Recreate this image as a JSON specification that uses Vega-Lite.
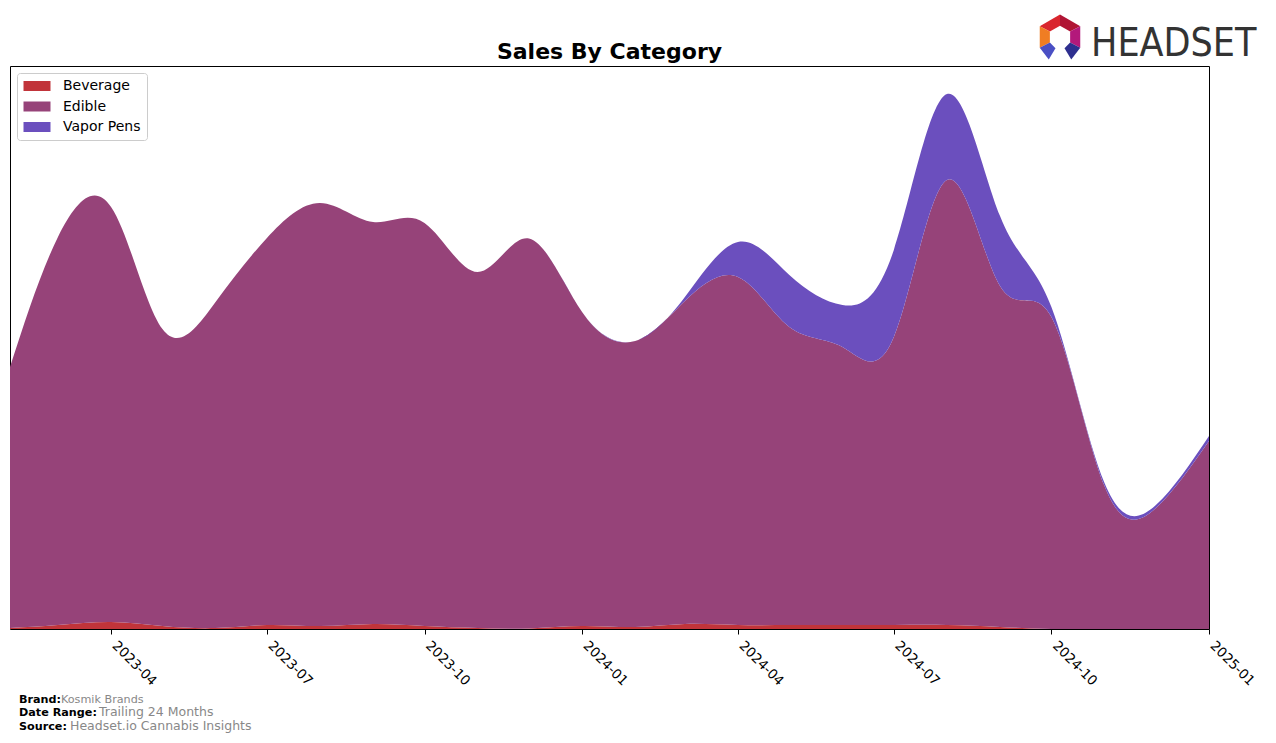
{
  "$schema": "https://vega.github.io/schema/vega-lite/v6.json",
  "width": 1199,
  "height": 563,
  "autosize": {"type": "none"},
  "padding": {"left": 10, "top": 66, "right": 67, "bottom": 114},
  "background": "white",
  "config": {
    "view": {"stroke": "black", "strokeWidth": 1},
    "font": "DejaVu Sans"
  },
  "title": {
    "text": "Sales By Category",
    "font": "DejaVu Sans",
    "fontSize": 22,
    "fontWeight": "bold",
    "color": "black",
    "anchor": "middle",
    "baseline": "alphabetic",
    "offset": 6,
    "dy": 72
  },
  "resolve": {"scale": {"color": "independent"}},
  "layer": [
    {
      "data": {
        "values": [
          {"month": "2023-02-01", "category": "Beverage", "sales": 1},
          {"month": "2023-03-01", "category": "Beverage", "sales": 4},
          {"month": "2023-04-01", "category": "Beverage", "sales": 7},
          {"month": "2023-05-01", "category": "Beverage", "sales": 3},
          {"month": "2023-06-01", "category": "Beverage", "sales": 1},
          {"month": "2023-07-01", "category": "Beverage", "sales": 4},
          {"month": "2023-08-01", "category": "Beverage", "sales": 3},
          {"month": "2023-09-01", "category": "Beverage", "sales": 5},
          {"month": "2023-10-01", "category": "Beverage", "sales": 3},
          {"month": "2023-11-01", "category": "Beverage", "sales": 1},
          {"month": "2023-12-01", "category": "Beverage", "sales": 0.5},
          {"month": "2024-01-01", "category": "Beverage", "sales": 3},
          {"month": "2024-02-01", "category": "Beverage", "sales": 2},
          {"month": "2024-03-01", "category": "Beverage", "sales": 5},
          {"month": "2024-04-01", "category": "Beverage", "sales": 4},
          {"month": "2024-05-01", "category": "Beverage", "sales": 4},
          {"month": "2024-06-01", "category": "Beverage", "sales": 4},
          {"month": "2024-07-01", "category": "Beverage", "sales": 4},
          {"month": "2024-08-01", "category": "Beverage", "sales": 4},
          {"month": "2024-09-01", "category": "Beverage", "sales": 2},
          {"month": "2024-10-01", "category": "Beverage", "sales": 0},
          {"month": "2024-11-01", "category": "Beverage", "sales": 0},
          {"month": "2024-12-01", "category": "Beverage", "sales": 0},
          {"month": "2025-01-01", "category": "Beverage", "sales": 0},
          {"month": "2023-02-01", "category": "Edible", "sales": 261},
          {"month": "2023-03-01", "category": "Edible", "sales": 388},
          {"month": "2023-04-01", "category": "Edible", "sales": 415},
          {"month": "2023-05-01", "category": "Edible", "sales": 297},
          {"month": "2023-06-01", "category": "Edible", "sales": 326},
          {"month": "2023-07-01", "category": "Edible", "sales": 387},
          {"month": "2023-08-01", "category": "Edible", "sales": 423},
          {"month": "2023-09-01", "category": "Edible", "sales": 402},
          {"month": "2023-10-01", "category": "Edible", "sales": 403},
          {"month": "2023-11-01", "category": "Edible", "sales": 356},
          {"month": "2023-12-01", "category": "Edible", "sales": 390},
          {"month": "2024-01-01", "category": "Edible", "sales": 314},
          {"month": "2024-02-01", "category": "Edible", "sales": 286},
          {"month": "2024-03-01", "category": "Edible", "sales": 323},
          {"month": "2024-04-01", "category": "Edible", "sales": 348},
          {"month": "2024-05-01", "category": "Edible", "sales": 298},
          {"month": "2024-06-01", "category": "Edible", "sales": 278},
          {"month": "2024-07-01", "category": "Edible", "sales": 288},
          {"month": "2024-08-01", "category": "Edible", "sales": 445},
          {"month": "2024-09-01", "category": "Edible", "sales": 341},
          {"month": "2024-10-01", "category": "Edible", "sales": 312},
          {"month": "2024-11-01", "category": "Edible", "sales": 143},
          {"month": "2024-12-01", "category": "Edible", "sales": 121},
          {"month": "2025-01-01", "category": "Edible", "sales": 188},
          {"month": "2023-02-01", "category": "Vapor Pens", "sales": 0},
          {"month": "2023-03-01", "category": "Vapor Pens", "sales": 0},
          {"month": "2023-04-01", "category": "Vapor Pens", "sales": 0},
          {"month": "2023-05-01", "category": "Vapor Pens", "sales": 0},
          {"month": "2023-06-01", "category": "Vapor Pens", "sales": 0},
          {"month": "2023-07-01", "category": "Vapor Pens", "sales": 0},
          {"month": "2023-08-01", "category": "Vapor Pens", "sales": 0},
          {"month": "2023-09-01", "category": "Vapor Pens", "sales": 0},
          {"month": "2023-10-01", "category": "Vapor Pens", "sales": 0},
          {"month": "2023-11-01", "category": "Vapor Pens", "sales": 0},
          {"month": "2023-12-01", "category": "Vapor Pens", "sales": 0},
          {"month": "2024-01-01", "category": "Vapor Pens", "sales": 0},
          {"month": "2024-02-01", "category": "Vapor Pens", "sales": 0},
          {"month": "2024-03-01", "category": "Vapor Pens", "sales": 4},
          {"month": "2024-04-01", "category": "Vapor Pens", "sales": 35},
          {"month": "2024-05-01", "category": "Vapor Pens", "sales": 52},
          {"month": "2024-06-01", "category": "Vapor Pens", "sales": 42},
          {"month": "2024-07-01", "category": "Vapor Pens", "sales": 87},
          {"month": "2024-08-01", "category": "Vapor Pens", "sales": 86},
          {"month": "2024-09-01", "category": "Vapor Pens", "sales": 70},
          {"month": "2024-10-01", "category": "Vapor Pens", "sales": 10},
          {"month": "2024-11-01", "category": "Vapor Pens", "sales": 3},
          {"month": "2024-12-01", "category": "Vapor Pens", "sales": 3},
          {"month": "2025-01-01", "category": "Vapor Pens", "sales": 5}
        ]
      },
      "mark": {"type": "area", "interpolate": "natural", "opacity": 1, "clip": true},
      "encoding": {
        "x": {
          "field": "month",
          "type": "temporal",
          "scale": {"type": "utc", "domain": [{"year": 2023, "month": 2, "date": 1, "utc": true}, {"year": 2025, "month": 1, "date": 1, "utc": true}], "nice": false},
          "axis": {
            "title": null,
            "labelExpr": "utcFormat(datum.value, '%Y-%m')",
            "tickCount": {"interval": "month", "step": 3},
            "labelAngle": 45,
            "labelAlign": "left",
            "labelBaseline": "alphabetic",
            "labelFont": "DejaVu Sans",
            "labelFontSize": 13.5,
            "labelColor": "black",
            "labelPadding": 12,
            "labelOverlap": false,
            "labelFlush": false,
            "tickColor": "black",
            "tickSize": 5,
            "domain": false,
            "grid": false
          }
        },
        "y": {
          "field": "sales",
          "type": "quantitative",
          "stack": "zero",
          "scale": {"domain": [0, 563], "nice": false, "zero": true},
          "axis": null
        },
        "color": {
          "field": "category",
          "type": "nominal",
          "scale": {"domain": ["Beverage", "Edible", "Vapor Pens"], "range": ["#c1343a", "#964379", "#6b4fbe"]},
          "legend": {
            "title": null,
            "orient": "none",
            "legendX": 7,
            "legendY": 7,
            "direction": "vertical",
            "fillColor": "white",
            "strokeColor": "#cccccc",
            "cornerRadius": 3,
            "padding": 6,
            "rowPadding": 6.5,
            "symbolType": "M-2.7,-1L2.7,-1L2.7,1L-2.7,1Z",
            "symbolSize": 100,
            "symbolStrokeWidth": 0,
            "symbolOffset": 7,
            "labelOffset": 19,
            "labelFont": "DejaVu Sans",
            "labelFontSize": 14,
            "labelColor": "black"
          }
        },
        "order": {"field": "category", "sort": "ascending"}
      }
    },
    {
      "data": {"values": [{"t": "Brand:"}]},
      "mark": {"type": "text", "align": "left", "baseline": "alphabetic", "font": "DejaVu Sans", "fontWeight": "bold", "fontSize": 11.2, "color": "black", "x": 9, "y": 637},
      "encoding": {"text": {"field": "t"}}
    },
    {
      "data": {"values": [{"t": "Kosmik Brands"}]},
      "mark": {"type": "text", "align": "left", "baseline": "alphabetic", "font": "DejaVu Sans", "fontSize": 11.2, "color": "#888888", "x": 51, "y": 637},
      "encoding": {"text": {"field": "t"}}
    },
    {
      "data": {"values": [{"t": "Date Range:"}]},
      "mark": {"type": "text", "align": "left", "baseline": "alphabetic", "font": "DejaVu Sans", "fontWeight": "bold", "fontSize": 11.2, "color": "black", "x": 9, "y": 650},
      "encoding": {"text": {"field": "t"}}
    },
    {
      "data": {"values": [{"t": "Trailing 24 Months"}]},
      "mark": {"type": "text", "align": "left", "baseline": "alphabetic", "font": "DejaVu Sans", "fontSize": 12.5, "color": "#888888", "x": 89, "y": 650},
      "encoding": {"text": {"field": "t"}}
    },
    {
      "data": {"values": [{"t": "Source:"}]},
      "mark": {"type": "text", "align": "left", "baseline": "alphabetic", "font": "DejaVu Sans", "fontWeight": "bold", "fontSize": 11.2, "color": "black", "x": 9, "y": 664},
      "encoding": {"text": {"field": "t"}}
    },
    {
      "data": {"values": [{"t": "Headset.io Cannabis Insights"}]},
      "mark": {"type": "text", "align": "left", "baseline": "alphabetic", "font": "DejaVu Sans", "fontSize": 12.5, "color": "#888888", "x": 60, "y": 664},
      "encoding": {"text": {"field": "t"}}
    },
    {
      "data": {"values": [{"t": "HEADSET"}]},
      "mark": {"type": "text", "align": "left", "baseline": "alphabetic", "font": "DejaVu Sans Condensed", "fontSize": 39, "color": "#333333", "x": 1081, "y": -10},
      "encoding": {"text": {"field": "t"}}
    },
    {
      "data": {
        "values": [
          {"seg": "a", "path": "M-0.9,-0.48L0,-1L0,-0.5L-0.45,-0.24Z"},
          {"seg": "b", "path": "M0,-1L0.9,-0.48L0.45,-0.24L0,-0.5Z"},
          {"seg": "c", "path": "M0.9,-0.48L0.9,0.48L0.45,0.24L0.45,-0.24Z"},
          {"seg": "d", "path": "M-0.9,-0.48L-0.45,-0.24L-0.45,0.24L-0.9,0.48Z"},
          {"seg": "e", "path": "M-0.9,0.48L-0.45,0.24L-0.2,0.5L-0.5,1.0Z"},
          {"seg": "f", "path": "M0.9,0.48L0.45,0.24L0.2,0.5L0.5,1.0Z"}
        ]
      },
      "mark": {"type": "point", "filled": true, "opacity": 1, "size": 2025, "x": 1050, "y": -29, "strokeWidth": 0},
      "encoding": {
        "shape": {"field": "path", "type": "nominal", "scale": null},
        "color": {"field": "seg", "type": "nominal", "scale": {"domain": ["a", "b", "c", "d", "e", "f"], "range": ["#d9262e", "#b01535", "#b3197b", "#f07d23", "#4a4fc4", "#2e2f8f"]}, "legend": null}
      }
    }
  ]
}
